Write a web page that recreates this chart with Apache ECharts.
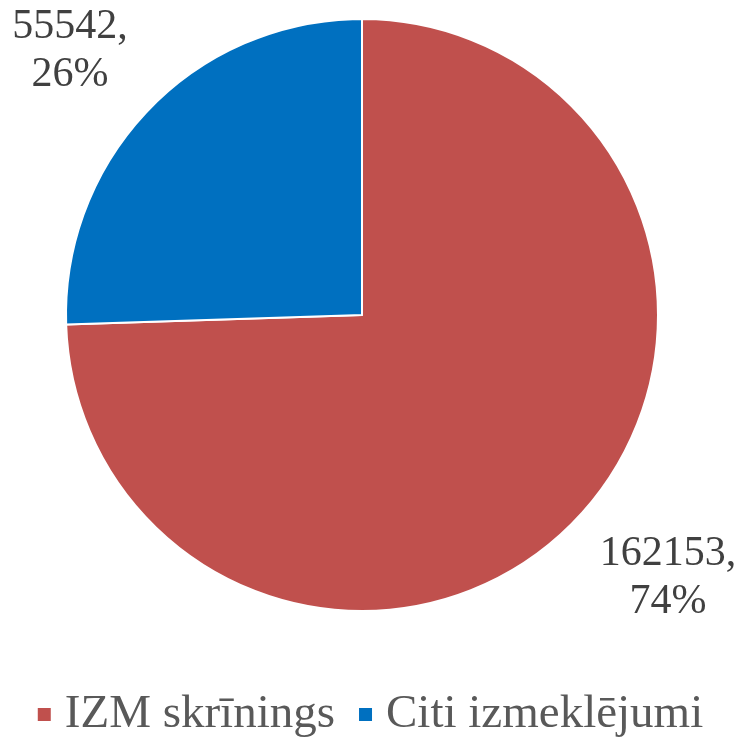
<!DOCTYPE html>
<html><head><meta charset="utf-8">
<script src="https://cdn.jsdelivr.net/npm/echarts@6/dist/echarts.min.js"></script>
<style>html,body{margin:0;padding:0;background:#fff}#c{width:739px;height:747px}</style>
</head><body><div id="c"></div>
<script>
const categories = ['IZM skrīnings', 'Citi izmeklējumi'];
const values = [162153, 55542];
const colors = ['#C0504D', '#0070C0'];

const FONT = 'Liberation Serif';
const chart = echarts.init(document.getElementById('c'));
const labelPos = [[668, 578], [70, 51]];
chart.setOption({
  animation: false,
  textStyle: { fontFamily: FONT },
  legend: {
    data: categories,
    bottom: 4,
    left: 'center',
    icon: 'rect',
    itemWidth: 15,
    itemHeight: 15,
    itemGap: 22,
    formatter: '{t|{name}}',
    textStyle: {
      fontFamily: FONT, fontSize: 47, color: '#595959', padding: [0, 0, 0, 8],
      rich: { t: { fontFamily: FONT, fontSize: 47, color: '#595959' } }
    }
  },
  series: [{
    type: 'pie',
    center: [362, 315],
    radius: 296,
    startAngle: 90,
    clockwise: true,
    percentPrecision: 0,
    itemStyle: { borderColor: '#fff', borderWidth: 2 },
    label: {
      show: true,
      position: 'inner',
      formatter: '{t|{c},}\n{t|{d}%}',
      fontFamily: FONT,
      fontSize: 42,
      lineHeight: 48,
      color: '#404040',
      overflow: 'none',
      rich: { t: { fontFamily: FONT, fontSize: 42, lineHeight: 48, color: '#404040', align: 'center' } }
    },
    labelLine: { show: false },
    labelLayout: function (p) {
      const pos = labelPos[p.dataIndex];
      return { x: pos[0], y: pos[1], align: 'center', verticalAlign: 'middle' };
    },
    data: categories.map((n, i) => ({ name: n, value: values[i], itemStyle: { color: colors[i] } }))
  }]
});
</script></body></html>
